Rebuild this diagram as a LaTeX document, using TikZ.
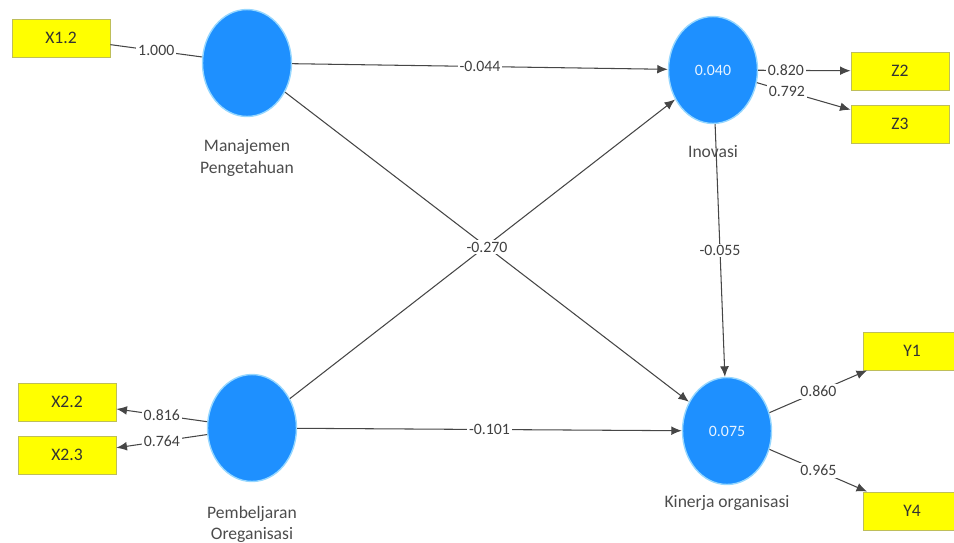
\documentclass[tikz,border=0pt]{standalone}
\usepackage{fontspec}
\setmainfont{Carlito}
\usetikzlibrary{arrows.meta,shapes.geometric,positioning}
\definecolor{lvblue}{RGB}{30,144,255}
\definecolor{lvrim}{RGB}{150,215,255}
\definecolor{indyellow}{RGB}{255,255,0}
\definecolor{indrim}{RGB}{190,190,90}
\definecolor{linkgray}{RGB}{70,70,70}
\begin{document}
\begin{tikzpicture}[x=0.02cm, y=-0.02cm,
  latent/.style={ellipse, fill=lvblue, draw=lvrim, line width=0.8pt,
    minimum width=1.78cm, minimum height=2.14cm, text=white!90!lvblue,
    font=\fontsize{9}{10}\selectfont},
  indicator/.style={rectangle, fill=indyellow, draw=indrim, line width=0.5pt,
    minimum width=1.96cm, minimum height=0.76cm, text=black!80,
    font=\fontsize{10}{11}\selectfont},
  link/.style={draw=linkgray, line width=0.6pt},
  arr/.style={link, -{Latex[length=6pt,width=5pt]}},
  coef/.style={fill=white, inner sep=1pt, text=black!75,
    font=\fontsize{9}{10}\selectfont},
  lvname/.style={align=center, inner sep=0pt, text=black!70,
    font=\fontsize{10}{12}\selectfont}]
  \useasboundingbox (0,0) rectangle (954,542);
  % Latent variables
  \node[latent] (mp) at (247,63) {};
  \node[latent] (ino) at (713,70) {0.040};
  \node[latent] (po) at (252,428) {};
  \node[latent] (ko) at (727,431) {0.075};
  % Names
  \node[lvname] (mpname) at (247,158) {Manajemen\\Pengetahuan};
  \node[lvname] (inoname) at (713,152) {Inovasi};
  \node[lvname] (poname) at (252,524) {Pembeljaran\\Oreganisasi};
  \node[lvname] (koname) at (727,503) {Kinerja organisasi};
  % Indicators
  \node[indicator] (x12) at (61,38) {X1.2};
  \node[indicator] (z2) at (900,71) {Z2};
  \node[indicator] (z3) at (900,124) {Z3};
  \node[indicator] (x22) at (67,402) {X2.2};
  \node[indicator] (x23) at (67,455) {X2.3};
  \node[indicator] (y1) at (912,351) {Y1};
  \node[indicator] (y4) at (912,511) {Y4};
  % Outer model
  \draw[link] (x12) -- node[coef] {1.000} (mp);
  \draw[arr] (ino) -- node[coef, pos=0.3] {0.820} (z2);
  \draw[arr] (ino) -- node[coef, pos=0.32] {0.792} (z3);
  \draw[arr] (po) -- node[coef] {0.816} (x22);
  \draw[arr] (po) -- node[coef] {0.764} (x23);
  \draw[arr] (ko) -- node[coef] {0.860} (y1);
  \draw[arr] (ko) -- node[coef] {0.965} (y4);
  % Inner model
  \draw[arr] (mp) -- node[coef] {-0.044} (ino);
  \draw[arr] (po) -- (ino);
  \draw[arr] (mp) -- node[coef] {-0.270} (ko);
  \draw[arr] (po) -- node[coef] {-0.101} (ko);
  \draw[arr] (ino) -- node[coef] {-0.055} (ko);
\end{tikzpicture}
\end{document}
